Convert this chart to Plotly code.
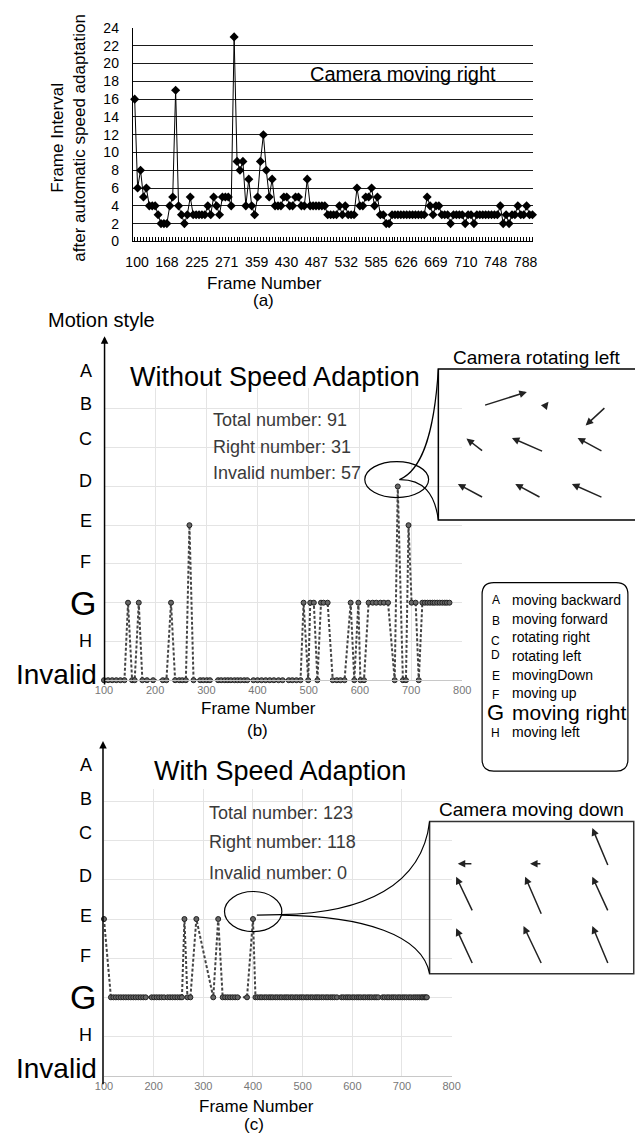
import plotly.graph_objects as go

W, H = 644, 1148
FONT = "Liberation Sans, Arial, Helvetica, sans-serif"


def fx(p):
    return p / W


def fy(p):
    return 1 - p / H


# ---------------- (a) frame interval data ----------------
a_values = [16, 6, 8, 5, 6, 4, 4, 4, 3, 2,
            2, 2, 4, 5, 17, 4, 3, 2, 3, 5,
            3, 3, 3, 3, 3, 4, 3, 5, 4, 3,
            5, 5, 5, 4, 23, 9, 8, 9, 4, 7,
            4, 3, 5, 9, 12, 8, 5, 7, 4, 4,
            4, 5, 5, 4, 4, 5, 5, 4, 4, 7,
            4, 4, 4, 4, 4, 4, 3, 3, 3, 3,
            4, 3, 4, 3, 3, 3, 6, 4, 4, 5,
            5, 6, 4, 5, 3, 3, 2, 2, 3, 3,
            3, 3, 3, 3, 3, 3, 3, 3, 3, 3,
            5, 4, 3, 4, 4, 3, 3, 3, 2, 3,
            3, 3, 3, 2, 3, 3, 2, 3, 3, 3,
            3, 3, 3, 3, 3, 4, 2, 3, 2, 3,
            3, 4, 3, 3, 4, 3, 3]
a_index = list(range(len(a_values)))
a_tick_labels = ["100", "168", "225", "271", "359", "430", "487",
                 "532", "585", "626", "669", "710", "748", "788"]
a_yticks = [0, 2, 4, 6, 8, 10, 12, 14, 16, 18, 20, 22, 24]

# ---------------- motion style levels ----------------
level_order = ["Invalid", "H", "G", "F", "E", "D", "C", "B", "A"]
legend_letters = ["A", "B", "C", "D", "E", "F", "G", "H"]
legend_texts = ["moving backward", "moving forward", "rotating right", "rotating left",
                "movingDown", "moving up", "moving right", "moving left"]

# ---------------- (b) without speed adaption ----------------
b_frames = [100, 108, 116, 124, 132, 140, 147, 155, 160, 168,
            175, 184, 196, 215, 222, 231, 239, 247, 253, 260,
            267, 275, 288, 294, 301, 307, 323, 329, 336, 342,
            348, 355, 361, 367, 374, 380, 392, 400, 408, 416,
            424, 432, 441, 449, 461, 468, 476, 484, 490, 499,
            503, 510, 517, 524, 529, 537, 547, 555, 562, 570,
            582, 589, 597, 601, 608, 617, 625, 632, 640, 647,
            655, 668, 674, 684, 690, 695, 701, 709, 715, 722,
            727, 732, 737, 742, 746, 751, 756, 761, 766, 770, 775]
b_styles = ["Invalid", "Invalid", "Invalid", "Invalid", "Invalid", "Invalid", "G", "Invalid", "Invalid", "G",
            "Invalid", "Invalid", "Invalid", "Invalid", "Invalid", "G", "Invalid", "Invalid", "Invalid", "Invalid",
            "E", "Invalid", "Invalid", "Invalid", "Invalid", "Invalid", "Invalid", "Invalid", "Invalid", "Invalid",
            "Invalid", "Invalid", "Invalid", "Invalid", "Invalid", "Invalid", "Invalid", "Invalid", "Invalid", "Invalid",
            "Invalid", "Invalid", "Invalid", "Invalid", "Invalid", "Invalid", "Invalid", "Invalid", "G", "Invalid",
            "G", "G", "Invalid", "G", "G", "G", "Invalid", "Invalid", "Invalid", "Invalid",
            "G", "Invalid", "G", "Invalid", "Invalid", "G", "G", "G", "G", "G",
            "G", "Invalid", "D", "Invalid", "Invalid", "E", "G", "G", "Invalid", "G",
            "G", "G", "G", "G", "G", "G", "G", "G", "G", "G", "G"]
b_stats = ["Total number: 91", "Right number: 31", "Invalid number: 57"]

# ---------------- (c) with speed adaption ----------------
c_frames = [100, 114, 119, 124, 129, 134, 139, 144, 149, 154,
            159, 164, 169, 174, 179, 184, 196, 201, 206, 211,
            216, 221, 228, 233, 238, 243, 248, 253, 257, 262,
            268, 274, 286, 320, 330, 339, 344, 349, 354, 359,
            364, 369, 388, 400,
            405, 409, 414, 418, 423, 427, 432, 436, 440, 445,
            449, 454, 458, 463, 467, 471, 476, 480, 485, 489,
            494, 498, 502, 507, 511, 516, 520, 525, 529, 533,
            538, 542, 547, 551, 556, 560, 564, 569, 578, 582,
            587, 591, 595, 600, 604, 609, 613, 617, 622, 626,
            631, 635, 639, 644, 648, 652, 661, 665, 670, 674,
            679, 683, 687, 692, 696, 701, 705, 709, 714, 718,
            723, 727, 731, 735, 739, 742, 745, 748, 750]
c_styles = ["E", "G", "G", "G", "G", "G", "G", "G", "G", "G",
            "G", "G", "G", "G", "G", "G", "G", "G", "G", "G",
            "G", "G", "G", "G", "G", "G", "G", "G", "G", "E",
            "G", "G", "E", "G", "E", "G", "G", "G", "G", "G",
            "G", "G", "G", "E",
            "G", "G", "G", "G", "G", "G", "G", "G", "G", "G",
            "G", "G", "G", "G", "G", "G", "G", "G", "G", "G",
            "G", "G", "G", "G", "G", "G", "G", "G", "G", "G",
            "G", "G", "G", "G", "G", "G", "G", "G", "G", "G",
            "G", "G", "G", "G", "G", "G", "G", "G", "G", "G",
            "G", "G", "G", "G", "G", "G", "G", "G", "G", "G",
            "G", "G", "G", "G", "G", "G", "G", "G", "G", "G",
            "G", "G", "G", "G", "G", "G", "G", "G", "G"]
c_stats = ["Total number: 123", "Right number: 118", "Invalid number: 0"]
bc_xticks = [100, 200, 300, 400, 500, 600, 700, 800]

# ---------------- inset motion vectors (x0, y0, x1, y1) in inset units ----------------
b_vectors = [(23.0, 75.7, 45.0, 84.8), (54.7, 76.1, 56.0, 78.3), (85.2, 75.0, 74.9, 62.6),
             (23.0, 45.2, 14.3, 53.9), (53.5, 45.2, 37.4, 54.3), (83.7, 45.2, 70.8, 54.3),
             (23.0, 14.7, 9.9, 23.9), (52.2, 14.7, 39.1, 23.9), (83.7, 14.7, 67.9, 23.9)]
c_vectors = [(21.2, 72.3, 13.8, 72.3), (55.0, 72.3, 49.2, 72.3), (87.6, 70.4, 79.7, 95.7),
             (21.2, 40.6, 13.0, 63.7), (55.0, 38.4, 46.8, 63.7), (87.6, 40.6, 79.7, 63.7),
             (21.2, 6.0, 13.0, 29.8), (55.0, 6.0, 46.0, 31.3), (87.6, 6.0, 79.7, 31.3)]

fig = go.Figure()

# (a)
fig.add_trace(go.Scatter(x=a_index, y=a_values, xaxis="x", yaxis="y", mode="lines+markers",
                         line=dict(color="black", width=1),
                         marker=dict(symbol="diamond", size=7, color="black"),
                         cliponaxis=False, showlegend=False, hoverinfo="skip"))
# (b)
fig.add_trace(go.Scatter(x=b_frames, y=b_styles, xaxis="x2", yaxis="y2", mode="lines+markers",
                         line=dict(color="#444", width=2, dash="3px,2px"),
                         marker=dict(size=5, color="#666", line=dict(color="#222", width=1)),
                         cliponaxis=False, showlegend=False, hoverinfo="skip"))
# (c)
fig.add_trace(go.Scatter(x=c_frames, y=c_styles, xaxis="x3", yaxis="y3", mode="lines+markers",
                         line=dict(color="#444", width=2, dash="3px,2px"),
                         marker=dict(size=5, color="#666", line=dict(color="#222", width=1)),
                         cliponaxis=False, showlegend=False, hoverinfo="skip"))
# inset placeholders
for xa, ya in (("x4", "y4"), ("x6", "y6")):
    fig.add_trace(go.Scatter(x=[50], y=[50], xaxis=xa, yaxis=ya, mode="markers",
                             marker=dict(opacity=0), showlegend=False, hoverinfo="skip"))

small_grid = "#e4e4e4"
layout = dict(
    width=W, height=H, autosize=False, margin=dict(l=0, r=0, t=0, b=0),
    paper_bgcolor="white", plot_bgcolor="rgba(0,0,0,0)",
    font=dict(family=FONT, color="black"),
    showlegend=False,
    xaxis=dict(domain=[fx(127.3), fx(539.2)], range=[-0.665, 136.23], anchor="y",
               tickmode="array", tickvals=[0.8 + 10.22 * i for i in range(len(a_tick_labels))],
               ticktext=a_tick_labels, showgrid=False, zeroline=False, showline=True,
               linecolor="black", linewidth=1, ticks="", ticklabelstandoff=8,
               tickfont=dict(size=14, color="black"),
               minor=dict(ticks="inside", ticklen=4, tickwidth=1, tickcolor="black",
                          tickmode="linear", tick0=0, dtick=1, showgrid=False)),
    yaxis=dict(domain=[fy(236.7), fy(20.3)], range=[0, 24], anchor="x", tickmode="array",
               tickvals=a_yticks, showgrid=True, gridcolor="#1a1a1a", gridwidth=1,
               showline=True, linecolor="black", linewidth=1, zeroline=False, ticks="",
               ticklabelstandoff=10, tickfont=dict(size=14, color="black")),
    xaxis2=dict(domain=[fx(97.7), fx(466.3)], range=[100, 800], anchor="y2", tickmode="array",
                tickvals=bc_xticks, showgrid=True, gridcolor=small_grid, zeroline=False,
                showline=True, linecolor="#c8c8c8", ticks="", ticklabelstandoff=0,
                tickfont=dict(size=11, color="#777")),
    yaxis2=dict(domain=[fy(681.7), fy(385)], range=[0, 7.55], anchor="x2", type="category",
                categoryorder="array", categoryarray=level_order, showticklabels=False,
                showgrid=True, gridcolor=small_grid, zeroline=False, showline=False, ticks=""),
    xaxis3=dict(domain=[fx(97.7), fx(455.4)], range=[100, 800], anchor="y3", tickmode="array",
                tickvals=bc_xticks, showgrid=True, gridcolor=small_grid, zeroline=False,
                showline=True, linecolor="#c8c8c8", ticks="", ticklabelstandoff=0,
                tickfont=dict(size=11, color="#777")),
    yaxis3=dict(domain=[fy(1082.7), fy(791.7)], range=[0, 7.33], anchor="x3", type="category",
                categoryorder="array", categoryarray=level_order, showticklabels=False,
                showgrid=True, gridcolor=small_grid, zeroline=False, showline=False, ticks=""),
    xaxis4=dict(domain=[fx(441.7), 1.0], range=[0, 100], anchor="y4", visible=False),
    yaxis4=dict(domain=[fy(519.3), fy(366)], range=[0, 100], anchor="x4", visible=False),
    xaxis6=dict(domain=[fx(432.7), fx(642.7)], range=[0, 100], anchor="y6", visible=False),
    yaxis6=dict(domain=[fy(979.3), fy(825)], range=[0, 100], anchor="x6", visible=False),
)

ann = []


def text(x, y, s, size, color="black", xanchor="center", angle=0):
    ann.append(dict(x=fx(x), y=fy(y), xref="paper", yref="paper", text=s, showarrow=False,
                    xanchor=xanchor, yanchor="middle", textangle=angle,
                    font=dict(size=size, color=color, family=FONT)))


# (a) texts
text(61.7, 131.5, "Frame Interval<br>after automatic speed adaptation", 17, angle=-90)
text(405, 66.7, "Camera moving right", 20)
text(262.8, 279, "Frame Number", 17)
text(262, 297, "(a)", 17)

# (b) texts
text(95, 316.7, "Motion style", 20)
text(273.3, 374, "Without Speed Adaption", 27)
for s, yy in zip(b_stats, (418.3, 445.7, 471.7)):
    text(208, yy, s, 18, color="#3a3a3a", xanchor="left")
text(256.7, 710, "Frame Number", 17)
text(256, 733, "(b)", 17)
text(543, 354, "Camera rotating left", 19)

# (c) texts
text(278.3, 773.3, "With Speed Adaption", 27)
for s, yy in zip(c_stats, (816, 846, 877.3)):
    text(203.3, yy, s, 18, color="#3a3a3a", xanchor="left")
text(255, 1114, "Frame Number", 17)
text(252, 1132, "(c)", 17)
text(537.5, 813.3, "Camera moving down", 19)

# motion-style axis labels (level "A" lies above the plotted range: placed from level "B")
b_shift = [6, 0, 0, 2, 4.5, 5, 9, 5, 38.3]
c_shift = [7, 1, 0, 2, 3, 4, 8, 3, 36.7]
for yref, shifts in (("y2", b_shift), ("y3", c_shift)):
    for lvl, sh in zip(level_order, shifts):
        if lvl == "Invalid":
            size, xa, xpos = 28, "right", fx(93)
        elif lvl == "G":
            size, xa, xpos = 34, "center", fx(76)
        else:
            size, xa, xpos = 18, "center", fx(79)
        ann.append(dict(x=xpos, y="B" if lvl == "A" else lvl, xref="paper", yref=yref, text=lvl,
                        showarrow=False, xanchor=xa, yanchor="middle", yshift=sh,
                        font=dict(size=size, color="black", family=FONT)))

# arrow axes
for x, ytip, ybot in ((98.3, 333, 682.7), (96.7, 743.3, 1088)):
    ann.append(dict(x=fx(x), y=fy(ytip), xref="paper", yref="paper", ax=0, ay=ybot - ytip,
                    axref="pixel", ayref="pixel", showarrow=True, arrowhead=2, arrowsize=1,
                    arrowwidth=1.5, arrowcolor="black", text=""))

# inset motion vectors
for vecs, xa, ya in ((b_vectors, "x4", "y4"), (c_vectors, "x6", "y6")):
    for x0, y0, x1, y1 in vecs:
        ann.append(dict(x=x1, y=y1, ax=x0, ay=y0, xref=xa, yref=ya, axref=xa, ayref=ya,
                        showarrow=True, arrowhead=2, arrowsize=1, arrowwidth=1.5,
                        arrowcolor="#222", text=""))

# legend
letter_y = [600.7, 621.7, 641.7, 655.7, 677.3, 696.7, 714, 735]
desc_y = [600.7, 619.3, 638.3, 656.7, 676, 695, 714.5, 734]
for L, d, ly, dy in zip(legend_letters, legend_texts, letter_y, desc_y):
    big = L == "G"
    text(501, ly, L, 22 if big else 12)
    text(515.7, dy, d, 21 if big else 14, xanchor="left")

layout["annotations"] = ann


def P(x, y):
    return f"{fx(x):.5f},{fy(y):.5f}"


shapes = []
# inset box (b): open on the right, it runs to the edge of the picture
shapes.append(dict(type="path", xref="paper", yref="paper",
                   path=f"M {P(W, 366)} L {P(441.7, 366)} L {P(441.7, 519.3)} L {P(W, 519.3)}",
                   line=dict(color="black", width=1.5)))
# inset box (c)
shapes.append(dict(type="rect", xref="paper", yref="paper", x0=fx(432.7), x1=fx(642.7),
                   y0=fy(979.3), y1=fy(825), line=dict(color="#333", width=1.5)))
# ellipses
shapes.append(dict(type="circle", xref="paper", yref="paper", x0=fx(366), x1=fx(431.7),
                   y0=fy(496.5), y1=fy(460), line=dict(color="black", width=1.2)))
shapes.append(dict(type="circle", xref="paper", yref="paper", x0=fx(221.7), x1=fx(280.7),
                   y0=fy(936.7), y1=fy(896), line=dict(color="black", width=1.2)))
# connector curves
curves = [
    f"M {P(401.7, 478.3)} C {P(422, 470)} {P(437, 440)} {P(441.7, 366)}",
    f"M {P(401.7, 478.3)} C {P(426, 478)} {P(438, 492)} {P(441.7, 519.3)}",
    f"M {P(255, 920)} L {P(280, 919.5)} C {P(365, 918)} {P(425, 890)} {P(432.7, 825)}",
    f"M {P(280, 920)} C {P(365, 921)} {P(425, 940)} {P(432.7, 979.3)}",
]
for c in curves:
    shapes.append(dict(type="path", xref="paper", yref="paper", path=c,
                       line=dict(color="black", width=1.2)))
# rounded legend box
x0, y0, x1, y1, r = 486.7, 582.7, 636.7, 774, 12
path = (f"M {P(x0 + r, y0)} L {P(x1 - r, y0)} Q {P(x1, y0)} {P(x1, y0 + r)} "
        f"L {P(x1, y1 - r)} Q {P(x1, y1)} {P(x1 - r, y1)} L {P(x0 + r, y1)} "
        f"Q {P(x0, y1)} {P(x0, y1 - r)} L {P(x0, y0 + r)} Q {P(x0, y0)} {P(x0 + r, y0)} Z")
shapes.append(dict(type="path", xref="paper", yref="paper", path=path,
                   line=dict(color="black", width=1.2)))
layout["shapes"] = shapes

fig.update_layout(**layout)
fig.write_html("out.html")
